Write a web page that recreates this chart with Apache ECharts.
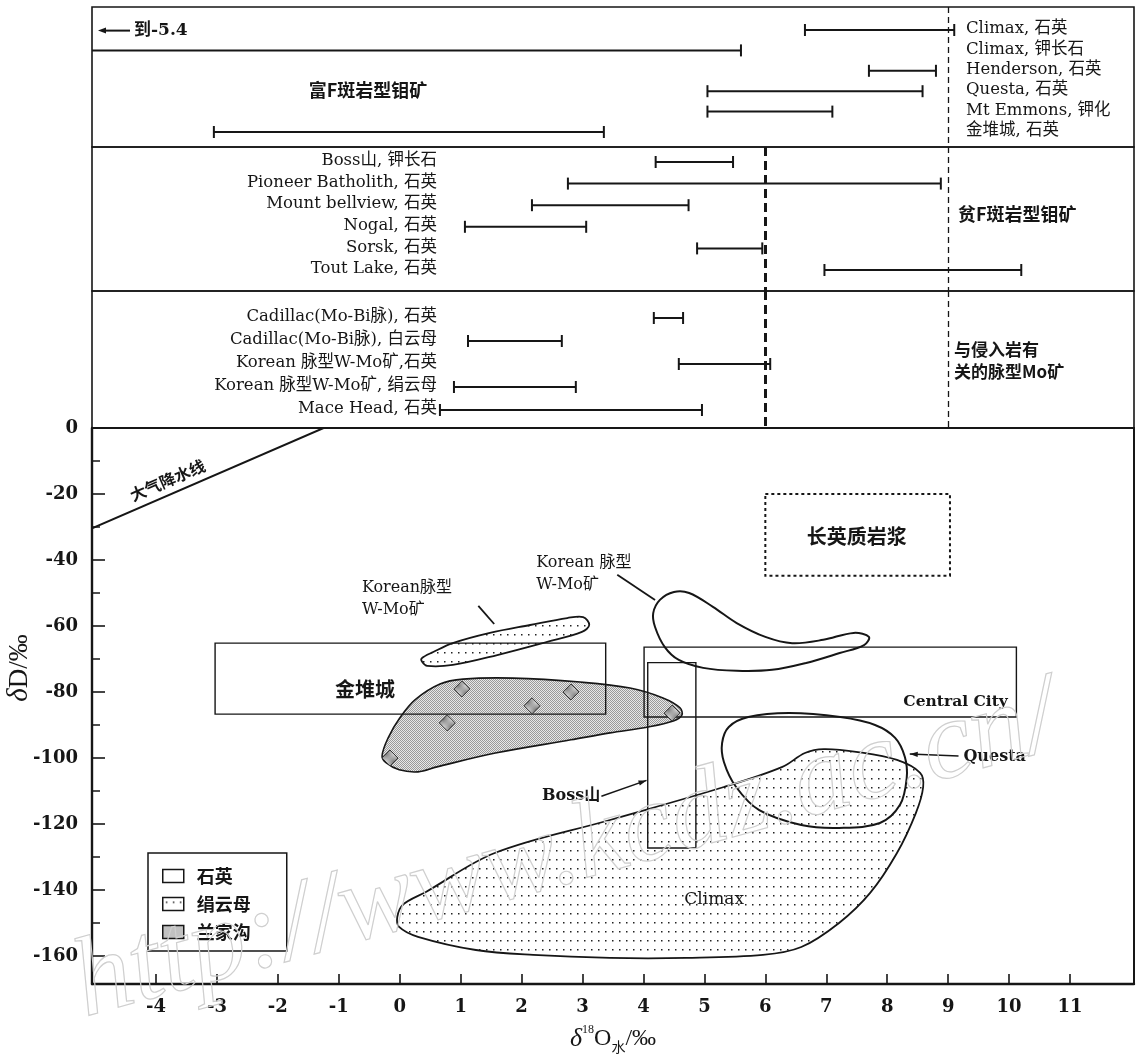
<!DOCTYPE html>
<html>
<head>
<meta charset="utf-8">
<title>δD – δ18O 水</title>
<script src="https://cdn.jsdelivr.net/npm/echarts@6/dist/echarts.min.js"></script>
<style>
  html, body { margin: 0; padding: 0; background: #fff; }
  #chart { width: 1138px; height: 1060px; }
</style>
</head>
<body>
<div id="chart"></div>
<script>
// ---------- upper panel: δ18O(water) ranges, ‰ ----------
// F-rich porphyry Mo deposits
const richFNames = ['Climax, 石英', 'Climax, 钾长石', 'Henderson, 石英', 'Questa, 石英', 'Mt Emmons, 钾化', '金堆城, 石英'];
const richFRanges = [[6.65, 9.1], [-5.4, 5.6], [7.7, 8.8], [5.05, 8.58], [5.05, 7.1], [-3.05, 3.35]];
// F-poor porphyry Mo deposits
const poorFNames = ['Boss山, 钾长石', 'Pioneer Batholith, 石英', 'Mount bellview, 石英', 'Nogal, 石英', 'Sorsk, 石英', 'Tout Lake, 石英'];
const poorFRanges = [[4.2, 5.47], [2.76, 8.88], [2.17, 4.74], [1.07, 3.06], [4.88, 5.95], [6.97, 10.2]];
// intrusion-related vein Mo deposits
const veinNames = ['Cadillac(Mo-Bi脉), 石英', 'Cadillac(Mo-Bi脉), 白云母', 'Korean 脉型W-Mo矿,石英', 'Korean 脉型W-Mo矿, 绢云母', 'Mace Head, 石英'];
const veinRanges = [[4.17, 4.65], [1.12, 2.66], [4.58, 6.08], [0.89, 2.89], [0.66, 4.96]];
// reference δ18O values marked by dashed verticals
const refLineThick = 6;
const refLineThin = 9;

// ---------- lower panel: δ18O(water) vs δD fields ----------
const climaxSericite = [[-0.04, -148.2], [0.05, -144.5], [0.43, -140.6], [1.56, -128.8], [3.45, -118.8], [5.32, -108.8],
  [6.28, -102.7], [6.65, -98.5], [6.96, -97.3], [7.52, -98.2], [8.16, -100.6], [8.54, -104.5], [8.59, -108.8],
  [8.47, -116.7], [8.16, -128.8], [7.72, -140.9], [7.21, -150.0], [6.59, -157.3], [5.96, -159.7], [4.7, -160.6],
  [3.45, -160.6], [2.19, -159.7], [1.25, -158.2], [0.3, -154.2], [-0.01, -151.2]];
const koreanSericite = [[0.36, -69.8], [0.55, -67.9], [0.87, -65.2], [1.48, -62.1], [2.14, -59.7], [2.75, -57.6],
  [3.01, -57.3], [3.11, -59.7], [2.99, -61.8], [2.42, -64.8], [1.6, -68.8], [0.87, -71.8], [0.45, -72.1], [0.37, -70.9]];
const koreanQuartz = [[4.19, -60.3], [4.16, -56.1], [4.27, -52.1], [4.5, -49.7], [4.75, -50.0], [5.14, -54.2],
  [5.53, -59.1], [6.0, -63.3], [6.44, -65.2], [6.95, -64.2], [7.45, -62.1], [7.7, -63.3], [7.62, -65.8], [7.22, -68.2],
  [6.67, -71.2], [6.11, -73.3], [5.53, -73.6], [4.98, -72.7], [4.58, -70.3], [4.35, -66.4]];
const questaQuartz = [[5.29, -95.5], [5.4, -90.6], [5.72, -87.6], [6.39, -86.4], [7.23, -87.6], [7.8, -90.0],
  [8.13, -93.9], [8.29, -99.7], [8.32, -106.1], [8.21, -114.2], [7.88, -119.7], [7.21, -121.2], [6.59, -120.3],
  [5.9, -115.8], [5.52, -108.8], [5.32, -101.2]];
const lanjiagouField = [[-0.29, -99.4], [-0.19, -93.9], [0.0, -87.9], [0.25, -82.4], [0.66, -77.6], [1.04, -76.1],
  [1.86, -75.8], [2.96, -77.0], [3.78, -78.8], [4.32, -81.8], [4.6, -84.8], [4.63, -87.0], [4.49, -88.8], [4.08, -90.6],
  [3.45, -92.4], [2.81, -94.5], [1.57, -98.5], [0.61, -102.7], [0.3, -104.2], [-0.01, -103.6], [-0.22, -101.5]];
const lanjiagouSamples = [[1.02, -79.1], [0.78, -89.4], [2.17, -84.2], [2.81, -80.0], [4.47, -86.4], [-0.16, -100.0]];
// quartz boxes: [δ18O min, δ18O max, δD top, δD bottom]
const jinduichengBox = [-3.03, 3.38, -65.2, -86.7];
const centralCityBox = [4.01, 10.12, -66.4, -87.6];
const bossBox = [4.07, 4.86, -71.1, -127.3];
const felsicMagmaBox = [6.0, 9.03, -20.0, -44.8];
// meteoric water line end points
const meteoricLine = [[-5.05, -30.4], [-1.25, 0]];

// axis ticks
const xTicks = [-4, -3, -2, -1, 0, 1, 2, 3, 4, 5, 6, 7, 8, 9, 10, 11];
const yTicks = [0, -20, -40, -60, -80, -100, -120, -140, -160];
const yMinorTicks = [-10, -30, -50, -70, -90, -110, -130, -150];

// ---------- layout & styles ----------
const INK = '#161616';
const SERIF = '"DejaVu Serif", "Noto Sans CJK SC", serif';
const ITALIC = '"Liberation Serif", "DejaVu Serif", serif';
const CJK = '"Noto Sans CJK SC", "DejaVu Serif", sans-serif';
const X_MIN = -5.05, X_MAX = 12.05;
const LEFT = 92, WIDTH = 1042;
const panels = [
  { top: 7, height: 140, yMin: -1.127, yMax: 5.735, names: richFNames, ranges: richFRanges, labelSide: 'right', refs: [refLineThin] },
  { top: 147, height: 144, yMin: -0.694, yMax: 5.972, names: poorFNames, ranges: poorFRanges, labelSide: 'left', refs: [refLineThick, refLineThin] },
  { top: 291, height: 137, yMin: -1.174, yMax: 4.783, names: veinNames, ranges: veinRanges, labelSide: 'left', refs: [refLineThick, refLineThin] }
];
const MAIN = { top: 428, height: 556, yMin: -168.5, yMax: 0 };

function tile(w, h, paint) {
  const c = document.createElement('canvas');
  c.width = w; c.height = h;
  paint(c.getContext('2d'));
  return { image: c, repeat: 'repeat' };
}
const dotFill = tile(7, 9, g => {
  g.fillStyle = '#fff'; g.fillRect(0, 0, 7, 9);
  g.fillStyle = '#222'; g.fillRect(3, 4, 1.5, 1.5);
});
const hatchFill = tile(2, 2, g => {
  g.fillStyle = '#e8e8e8'; g.fillRect(0, 0, 2, 2);
  g.fillStyle = '#9a9a9a'; g.fillRect(0, 0, 1, 1); g.fillRect(1, 1, 1, 1);
});
const hatchDark = tile(2, 2, g => {
  g.fillStyle = '#dadada'; g.fillRect(0, 0, 2, 2);
  g.fillStyle = '#777'; g.fillRect(0, 0, 1, 1); g.fillRect(1, 1, 1, 1);
});

function arrowHead(tip, tail, len, half) {
  const dx = tip[0] - tail[0], dy = tip[1] - tail[1];
  const d = Math.hypot(dx, dy) || 1;
  const ux = dx / d, uy = dy / d;
  const bx = tip[0] - ux * len, by = tip[1] - uy * len;
  return [[tip[0], tip[1]], [bx - uy * half, by + ux * half], [bx + uy * half, by - ux * half]];
}

// range bars with end caps, one series per deposit group
function rangeSeries(pi) {
  const p = panels[pi];
  const refStyle = v => v === refLineThick
    ? { type: [9, 5], width: 3, color: INK }
    : { type: [6, 4], width: 1.3, color: INK };
  return {
    type: 'custom',
    xAxisIndex: pi, yAxisIndex: pi,
    clip: true, silent: true,
    data: p.ranges.map((r, i) => [r[0], r[1], i]),
    encode: { x: [0, 1], y: 2 },
    markLine: {
      silent: true, symbol: 'none', label: { show: false },
      data: p.refs.map(v => ({ xAxis: v, lineStyle: refStyle(v) }))
    },
    renderItem(params, api) {
      const row = api.value(2), lo = api.value(0), hi = api.value(1);
      const a = api.coord([lo, row]), b = api.coord([hi, row]);
      const cs = params.coordSys;
      const line = (x1, y1, x2, y2, w) => ({ type: 'line', shape: { x1, y1, x2, y2 }, style: { stroke: INK, lineWidth: w } });
      const kids = [
        line(a[0], a[1], b[0], b[1], 2),
        line(a[0], a[1] - 6, a[0], a[1] + 6, 2),
        line(b[0], b[1] - 6, b[0], b[1] + 6, 2)
      ];
      const right = p.labelSide === 'right';
      kids.push({
        type: 'text',
        x: right ? cs.x + cs.width - 168 : cs.x + 345,
        y: a[1] - 1,
        style: { text: p.names[params.dataIndex], align: right ? 'left' : 'right', verticalAlign: 'middle', font: '16.5px ' + SERIF, fill: INK }
      });
      if (lo < X_MIN) {
        // range continues beyond the axis: arrow with the true lower bound
        const y = api.coord([lo, row - 0.97])[1];
        const tip = [cs.x + 6, y], tail = [cs.x + 38, y];
        kids.push(line(tail[0], y, tip[0] + 4, y, 2));
        kids.push({ type: 'polygon', shape: { points: arrowHead(tip, tail, 8, 3) }, style: { fill: INK } });
        kids.push({ type: 'text', x: cs.x + 42, y, style: { text: '到' + lo, align: 'left', verticalAlign: 'middle', font: 'bold 17px ' + SERIF, fill: INK } });
      }
      return { type: 'group', children: kids };
    }
  };
}

// closed outline fields in the δ18O–δD plot
function fieldSeries(name, fields, style) {
  return {
    type: 'custom', name,
    xAxisIndex: 3, yAxisIndex: 3, clip: true, silent: true,
    data: fields.map((f, i) => [f[0][0], f[0][1], i]),
    renderItem(params, api) {
      const pts = fields[params.dataIndex].map(pt => api.coord(pt));
      return { type: 'polygon', shape: { points: pts, smooth: 0.35 }, style: Object.assign({}, style) };
    }
  };
}

function boxSeries(name, boxes, style) {
  return {
    type: 'custom', name,
    xAxisIndex: 3, yAxisIndex: 3, clip: true, silent: true,
    data: boxes.map((b, i) => [b[0], b[2], i]),
    renderItem(params, api) {
      const b = boxes[params.dataIndex];
      const p0 = api.coord([b[0], b[2]]), p1 = api.coord([b[1], b[3]]);
      return { type: 'rect', shape: { x: p0[0], y: p0[1], width: p1[0] - p0[0], height: p1[1] - p0[1] }, style: Object.assign({ fill: 'none' }, style) };
    }
  };
}

// annotation texts with leader lines / arrows (data coordinates)
const notes = [
  { at: [-0.62, -51.7], text: 'Korean脉型\nW-Mo矿', align: 'left', font: '16px ' + SERIF, leader: [[1.29, -53.9], [1.55, -59.4]] },
  { at: [2.24, -44.2], text: 'Korean 脉型\nW-Mo矿', align: 'left', font: '16px ' + SERIF, leader: [[3.57, -44.5], [4.19, -52.1]] },
  { at: [-0.57, -79.1], text: '金堆城', align: 'center', font: 'bold 20px ' + CJK },
  { at: [7.5, -33.0], text: '长英质岩浆', align: 'center', font: 'bold 20px ' + CJK },
  { at: [9.98, -83.0], text: 'Central City', align: 'right', font: 'bold 15.5px ' + SERIF },
  { at: [3.29, -111.4], text: 'Boss山', align: 'right', font: 'bold 16px ' + SERIF, arrow: [[3.31, -111.6], [4.05, -106.8]] },
  { at: [9.25, -99.7], text: 'Questa', align: 'left', font: 'bold 16px ' + SERIF, arrow: [[9.17, -99.4], [8.37, -98.8]] },
  { at: [5.16, -143.0], text: 'Climax', align: 'center', font: '17px ' + SERIF }
];

const series = [
  rangeSeries(0), rangeSeries(1), rangeSeries(2),
  fieldSeries('兰家沟', [lanjiagouField], { fill: hatchFill, stroke: INK, lineWidth: 1.6 }),
  fieldSeries('绢云母', [climaxSericite, koreanSericite], { fill: dotFill, stroke: INK, lineWidth: 1.8 }),
  fieldSeries('石英', [koreanQuartz, questaQuartz], { fill: 'none', stroke: INK, lineWidth: 2 }),
  boxSeries('石英', [jinduichengBox, centralCityBox, bossBox], { stroke: INK, lineWidth: 1.4 }),
  boxSeries('长英质岩浆', [felsicMagmaBox], { stroke: INK, lineWidth: 2, lineDash: [3, 3] }),
  {
    type: 'custom', name: '大气降水线',
    xAxisIndex: 3, yAxisIndex: 3, clip: true, silent: true,
    data: [[meteoricLine[0][0], meteoricLine[0][1], meteoricLine[1][0], meteoricLine[1][1]]],
    renderItem(params, api) {
      const a = api.coord([api.value(0), api.value(1)]), b = api.coord([api.value(2), api.value(3)]);
      const ang = Math.atan2(a[1] - b[1], b[0] - a[0]);
      const t = 0.35, off = 14;
      const cx = a[0] + (b[0] - a[0]) * t - Math.sin(ang) * off;
      const cy = a[1] + (b[1] - a[1]) * t - Math.cos(ang) * off;
      return {
        type: 'group',
        children: [
          { type: 'line', shape: { x1: a[0], y1: a[1], x2: b[0], y2: b[1] }, style: { stroke: INK, lineWidth: 2 } },
          { type: 'text', x: cx, y: cy, rotation: ang, style: { text: '大气降水线', align: 'center', verticalAlign: 'middle', font: 'bold 16px ' + CJK, fill: INK } }
        ]
      };
    }
  },
  {
    type: 'scatter', name: '兰家沟',
    xAxisIndex: 3, yAxisIndex: 3, silent: true,
    symbol: 'diamond', symbolSize: 16,
    itemStyle: { color: hatchDark, borderColor: '#333', borderWidth: 1, opacity: 1 },
    data: lanjiagouSamples, z: 4
  },
  {
    type: 'custom', name: '标注',
    xAxisIndex: 3, yAxisIndex: 3, clip: false, silent: true, z: 5,
    data: notes.map((n, i) => [n.at[0], n.at[1], i]),
    renderItem(params, api) {
      const n = notes[params.dataIndex];
      const p = api.coord(n.at);
      const kids = [{ type: 'text', x: p[0], y: p[1], style: { text: n.text, align: n.align, verticalAlign: 'middle', font: n.font, fill: INK, lineHeight: 22 } }];
      if (n.leader) {
        const a = api.coord(n.leader[0]), b = api.coord(n.leader[1]);
        kids.push({ type: 'line', shape: { x1: a[0], y1: a[1], x2: b[0], y2: b[1] }, style: { stroke: INK, lineWidth: 1.8 } });
      }
      if (n.arrow) {
        const a = api.coord(n.arrow[0]), b = api.coord(n.arrow[1]);
        kids.push({ type: 'line', shape: { x1: a[0], y1: a[1], x2: b[0], y2: b[1] }, style: { stroke: INK, lineWidth: 1.5 } });
        kids.push({ type: 'polygon', shape: { points: arrowHead(b, a, 8, 2.6) }, style: { fill: INK } });
      }
      return { type: 'group', children: kids };
    }
  }
];

const axisFont = { fontFamily: SERIF, fontSize: 18, fontWeight: 'bold', color: INK };

const gridBase = { left: LEFT, width: WIDTH, show: true, borderColor: INK, outerBoundsMode: 'none', containLabel: false };

const option = {
  backgroundColor: '#fff',
  animation: false,
  grid: panels.map(p => Object.assign({}, gridBase, { top: p.top, height: p.height, borderWidth: 1.6 }))
    .concat([Object.assign({}, gridBase, { top: MAIN.top, height: MAIN.height, borderWidth: 2 })]),
  xAxis: panels.map((p, i) => ({ gridIndex: i, type: 'value', min: X_MIN, max: X_MAX, show: false }))
    .concat([{
      gridIndex: 3, type: 'value', min: X_MIN, max: X_MAX,
      axisLine: { show: true, onZero: false, lineStyle: { color: INK, width: 2.4 } },
      axisTick: { show: true, inside: true, length: 10, customValues: xTicks, lineStyle: { color: INK, width: 1.6 } },
      axisLabel: Object.assign({ customValues: xTicks, margin: 14 }, axisFont),
      splitLine: { show: false },
      name: '{i|δ}{sup|18}O{sub|水}/‰',
      nameLocation: 'middle', nameGap: 40, nameMoveOverlap: false,
      nameTextStyle: {
        fontFamily: ITALIC, fontSize: 24, color: INK, lineHeight: 30,
        rich: {
          i: { fontFamily: ITALIC, fontStyle: 'italic', fontSize: 26, lineHeight: 30 },
          sup: { fontFamily: ITALIC, fontSize: 12, lineHeight: 14, verticalAlign: 'top' },
          sub: { fontFamily: CJK, fontSize: 14, lineHeight: 16, verticalAlign: 'bottom' }
        }
      }
    }]),
  yAxis: panels.map((p, i) => ({ gridIndex: i, type: 'value', min: p.yMin, max: p.yMax, inverse: true, show: false }))
    .concat([{
      gridIndex: 3, type: 'value', min: MAIN.yMin, max: MAIN.yMax,
      axisLine: { show: true, onZero: false, lineStyle: { color: INK, width: 2.4 } },
      axisTick: { show: true, inside: true, length: 13, customValues: yTicks, lineStyle: { color: INK, width: 1.6 } },
      axisLabel: Object.assign({ customValues: yTicks, margin: 14 }, axisFont),
      splitLine: { show: false },
      name: '{i|δ}D/‰',
      nameLocation: 'middle', nameGap: 58, nameMoveOverlap: false,
      nameTextStyle: {
        fontFamily: ITALIC, fontSize: 27, color: INK, padding: [0, 0, 0, 76],
        rich: { i: { fontFamily: ITALIC, fontStyle: 'italic', fontSize: 29 } }
      }
    }, {
      gridIndex: 3, type: 'value', min: MAIN.yMin, max: MAIN.yMax, position: 'left',
      axisLine: { show: false, onZero: false },
      axisTick: { show: true, inside: true, length: 8, customValues: yMinorTicks, lineStyle: { color: INK, width: 1.5 } },
      axisLabel: { show: false },
      splitLine: { show: false }
    }]),
  legend: {
    left: 148, top: 853, orient: 'vertical',
    padding: [14, 36, 10, 14],
    itemGap: 10, itemWidth: 21, itemHeight: 13,
    borderColor: INK, borderWidth: 1.5, backgroundColor: '#fff',
    selectedMode: false,
    textStyle: { fontFamily: CJK, fontSize: 18, fontWeight: 'bold', color: INK, padding: [0, 0, 0, 8] },
    data: [
      { name: '石英', icon: 'rect', itemStyle: { color: '#fff', borderColor: INK, borderWidth: 1.5 } },
      { name: '绢云母', icon: 'rect', itemStyle: { color: dotFill, borderColor: INK, borderWidth: 1.5 } },
      { name: '兰家沟', icon: 'rect', itemStyle: { color: hatchFill, borderColor: INK, borderWidth: 1.5 } }
    ]
  },
  graphic: [
    { type: 'text', x: 368, y: 90, silent: true, style: { text: '富F斑岩型钼矿', align: 'center', verticalAlign: 'middle', font: 'bold 18px ' + CJK, fill: INK } },
    { type: 'text', x: 958, y: 214, silent: true, style: { text: '贫F斑岩型钼矿', align: 'left', verticalAlign: 'middle', font: 'bold 18px ' + CJK, fill: INK } },
    { type: 'text', x: 954, y: 361, silent: true, style: { text: '与侵入岩有\n关的脉型Mo矿', align: 'left', verticalAlign: 'middle', lineHeight: 22, font: 'bold 17px ' + CJK, fill: INK } },
    { type: 'text', x: 92, y: 1042, rotation: 0.27, silent: true, z: 100,
      style: { text: 'http://www.kcdz.ac.cn/', align: 'left', verticalAlign: 'bottom', font: 'italic 112px "Liberation Serif", serif', fill: 'rgba(0,0,0,0)', stroke: '#cfcfcf', lineWidth: 1.2 } }
  ],
  series
};

const chart = echarts.init(document.getElementById('chart'), null, { renderer: 'canvas' });
chart.setOption(option);
</script>
</body>
</html>
